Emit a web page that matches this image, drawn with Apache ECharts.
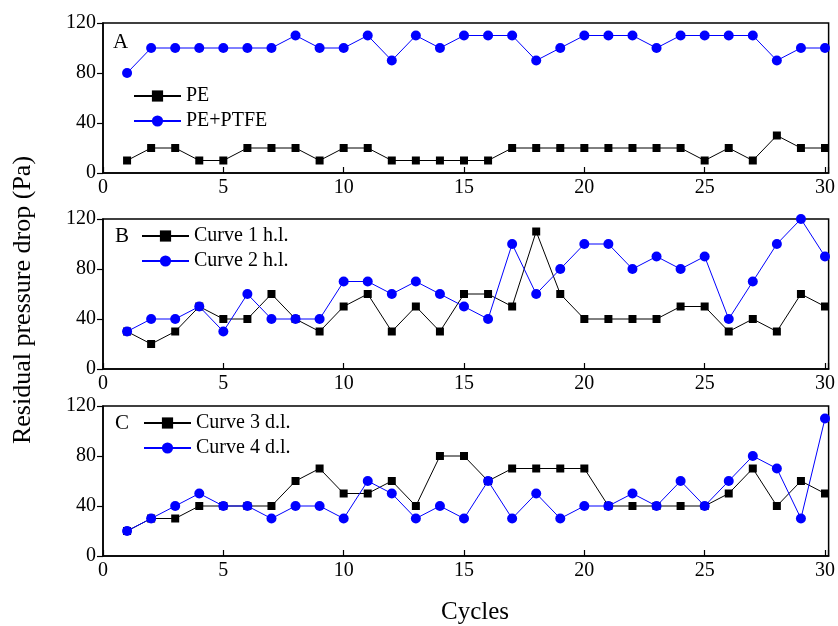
<!DOCTYPE html>
<html>
<head>
<meta charset="utf-8">
<script src="https://cdn.jsdelivr.net/npm/echarts@6/dist/echarts.min.js"></script>
<style>
  html, body { margin: 0; padding: 0; background: #fff; }
  #chart { width: 838px; height: 626px; }
</style>
</head>
<body>
<div id="chart"></div>
<script>
// Cycle numbers shared by all three panels
const cycles = [1,2,3,4,5,6,7,8,9,10,11,12,13,14,15,16,17,18,19,20,21,22,23,24,25,26,27,28,29,30];

// Panel A: filter media
const pe       = [10,20,20,10,10,20,20,20,10,20,20,10,10,10,10,10,20,20,20,20,20,20,20,20,10,20,10,30,20,20];
const pePtfe   = [80,100,100,100,100,100,100,110,100,100,110,90,110,100,110,110,110,90,100,110,110,110,100,110,110,110,110,90,100,100];

// Panel B: h.l. curves
const curve1 = [30,20,30,50,40,40,60,40,30,50,60,30,50,30,60,60,50,110,60,40,40,40,40,50,50,30,40,30,60,50];
const curve2 = [30,40,40,50,30,60,40,40,40,70,70,60,70,60,50,40,100,60,80,100,100,80,90,80,90,40,70,100,120,90];

// Panel C: d.l. curves
const curve3 = [20,30,30,40,40,40,40,60,70,50,50,60,40,80,80,60,70,70,70,70,40,40,40,40,40,50,70,40,60,50];
const curve4 = [20,30,40,50,40,40,30,40,40,30,60,50,30,40,30,60,30,50,30,40,40,50,40,60,40,60,80,70,30,110];

const xTicks = [0, 5, 10, 15, 20, 25, 30];
const yTicks = [0, 40, 80, 120];

const panelLetters = ['A', 'B', 'C'];
const seriesNames = [['PE', 'PE+PTFE'], ['Curve 1 h.l.', 'Curve 2 h.l.'], ['Curve 3 d.l.', 'Curve 4 d.l.']];
const seriesValues = [[pe, pePtfe], [curve1, curve2], [curve3, curve4]];

const FONT = 'Liberation Serif';
const BLACK = '#000000';
const BLUE = '#0000ff';

const gridTops = [23, 219, 406];
const gridHeight = 150;
const legendPos = [{ left: 133, top: 86 }, { left: 141, top: 226 }, { left: 143, top: 413 }];
const letterPos = [{ left: 113, top: 32 }, { left: 115, top: 226 }, { left: 115, top: 413 }];

const grids = [], xAxes = [], yAxes = [], series = [], legends = [], titles = [];

for (let p = 0; p < 3; p++) {
  grids.push({
    left: 103, right: 6, top: gridTops[p], height: gridHeight,
    show: true, borderColor: BLACK, borderWidth: 1.5, backgroundColor: 'transparent'
  });
  xAxes.push({
    type: 'value', gridIndex: p, min: 0, max: 30.15, interval: 5,
    axisLine: { show: true, lineStyle: { color: BLACK, width: 1.5 } },
    axisTick: { show: true, inside: true, length: 6, lineStyle: { color: BLACK, width: 1.2 } },
    axisLabel: {
      color: BLACK, fontFamily: FONT, fontSize: 20, margin: 5,
      formatter: v => (xTicks.indexOf(v) >= 0 ? String(v) : '')
    },
    splitLine: { show: false }
  });
  yAxes.push({
    type: 'value', gridIndex: p, min: 0, max: 120, interval: 40,
    axisLine: { show: true, lineStyle: { color: BLACK, width: 1.5 } },
    axisTick: { show: true, inside: false, length: 6, lineStyle: { color: BLACK, width: 1.2 } },
    axisLabel: {
      color: BLACK, fontFamily: FONT, fontSize: 20, margin: 7,
      formatter: v => (yTicks.indexOf(v) >= 0 ? String(v) : '')
    },
    splitLine: { show: false }
  });
  const [nameBlack, nameBlue] = seriesNames[p];
  const [valsBlack, valsBlue] = seriesValues[p];
  series.push({
    name: nameBlack, type: 'line', xAxisIndex: p, yAxisIndex: p,
    data: cycles.map((c, i) => [c, valsBlack[i]]),
    symbol: 'rect', symbolSize: 8,
    lineStyle: { color: BLACK, width: 1 },
    itemStyle: { color: BLACK },
    z: 3, animation: false
  });
  series.push({
    name: nameBlue, type: 'line', xAxisIndex: p, yAxisIndex: p,
    data: cycles.map((c, i) => [c, valsBlue[i]]),
    symbol: 'circle', symbolSize: 10,
    lineStyle: { color: BLUE, width: 1 },
    itemStyle: { color: BLUE },
    z: 4, animation: false
  });
  legends.push({
    data: [nameBlack, nameBlue], orient: 'vertical',
    left: legendPos[p].left, top: legendPos[p].top,
    itemWidth: 47, itemHeight: 14, itemGap: 5, padding: 0,
    textStyle: { color: BLACK, fontFamily: FONT, fontSize: 20 },
    selectedMode: false
  });
  titles.push({
    text: panelLetters[p], left: letterPos[p].left, top: letterPos[p].top, padding: 0,
    textStyle: { color: BLACK, fontFamily: FONT, fontSize: 21, fontWeight: 'normal' }
  });
}

const chart = echarts.init(document.getElementById('chart'), null, { renderer: 'canvas' });
chart.setOption({
  backgroundColor: '#ffffff',
  animation: false,
  title: titles,
  grid: grids,
  xAxis: xAxes,
  yAxis: yAxes,
  legend: legends,
  series: series,
  graphic: [
    {
      type: 'text', x: 23, y: 300, rotation: Math.PI / 2,
      style: {
        text: 'Residual pressure drop (Pa)', fill: BLACK,
        font: '26px ' + FONT, textAlign: 'center', textVerticalAlign: 'middle'
      }
    },
    {
      type: 'text', x: 475, y: 612,
      style: {
        text: 'Cycles', fill: BLACK,
        font: '25px ' + FONT, textAlign: 'center', textVerticalAlign: 'middle'
      }
    }
  ]
});
</script>
</body>
</html>
